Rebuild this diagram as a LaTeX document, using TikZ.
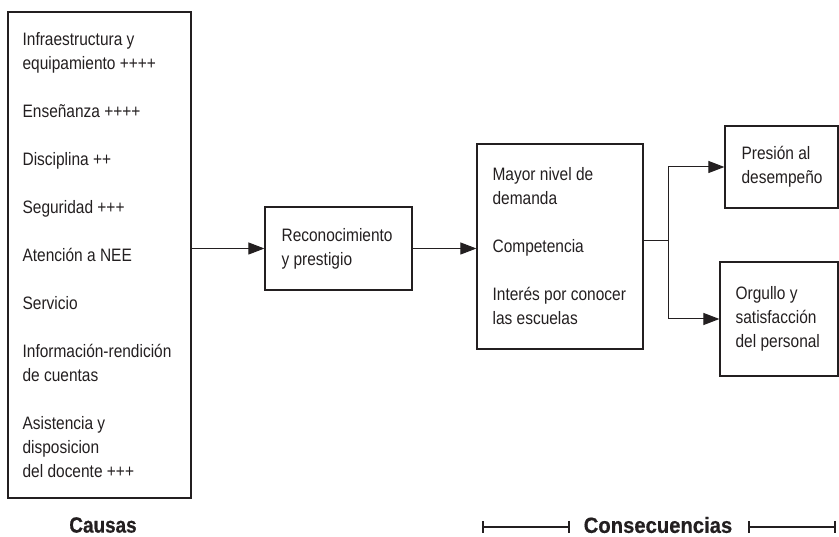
\documentclass[tikz,border=0pt]{standalone}
\usepackage{fontspec}
\setmainfont{Liberation Sans}[FakeStretch=0.86]
\newfontface\headnarrow{Liberation Sans Bold}[FakeStretch=0.86,FakeBold=0.6]
\newfontface\headwide{Liberation Sans Bold}[FakeStretch=0.92,FakeBold=0.6]
\usetikzlibrary{arrows.meta}
\definecolor{ink}{RGB}{35,31,32}
\begin{document}
\begin{tikzpicture}[x=1pt,y=-1pt,
  box/.style={draw=ink,line width=1.2pt,inner sep=0pt},
  txt/.style={text=ink,align=left,inner sep=0pt,anchor=west,font=\fontsize{18}{24}\selectfont},
  conn/.style={draw=ink,line width=1pt},
  arr/.style={conn,-{Triangle[length=16pt,width=12pt]}},
  head/.style={text=ink,inner sep=0pt},
  span/.style={draw=ink,line width=2pt,{Bar[width=12pt]}-{Bar[width=12pt]}}
]
\useasboundingbox (0,0) rectangle (839,537);

% causes
\node[box,minimum width=183pt,minimum height=486pt] (causes) at (99.5,255) {};
\node[txt] (causeslist) at ([xshift=15pt]causes.west) {Infraestructura y\\equipamiento ++++\\[24pt]
Enseñanza ++++\\[24pt]
Disciplina ++\\[24pt]
Seguridad +++\\[24pt]
Atención a NEE\\[24pt]
Servicio\\[24pt]
Información-rendición\\de cuentas\\[24pt]
Asistencia y\\disposicion\\del docente +++};

% recognition
\node[box,minimum width=147pt,minimum height=83pt] (reco) at (338.5,248.5) {};
\node[txt] (recotxt) at ([xshift=17pt]reco.west) {Reconocimiento\\y prestigio};

% direct consequences
\node[box,minimum width=166pt,minimum height=205pt] (cons) at (560,246.5) {};
\node[txt] (constxt) at ([xshift=16pt]cons.west) {Mayor nivel de\\demanda\\[24pt]
Competencia\\[24pt]
Interés por conocer\\las escuelas};

% outcomes
\node[box,minimum width=113pt,minimum height=82pt] (press) at (781.5,167) {};
\node[txt] (presstxt) at ([xshift=17pt]press.west) {Presión al\\desempeño};
\node[box,minimum width=118pt,minimum height=114pt] (pride) at (779,319) {};
\node[txt] (pridetxt) at ([xshift=16pt]pride.west) {Orgullo y\\satisfacción\\del personal};

% connectors
\draw[arr] (causes.east |- reco.west) -- (reco.west);
\draw[arr] (reco.east) -- (cons.west |- reco.east);
\coordinate (split) at (668,241);
\draw[conn] (cons.east |- split) -- (split);
\draw[arr] (split) |- (press.west);
\draw[arr] (split) |- (pride.west);

% headings
\node[head,font=\fontsize{22}{24}\headnarrow] (causeslbl) at (103,525) {Causas};
\node[head,font=\fontsize{22}{24}\headwide] (conslbl) at (658,525) {Consecuencias};
\coordinate (l1) at (482,527);
\coordinate (l2) at (570,527);
\coordinate (r1) at (748,527);
\coordinate (r2) at (836,527);
\draw[span] (l1) -- (l2);
\draw[span] (r1) -- (r2);
\end{tikzpicture}
\end{document}
